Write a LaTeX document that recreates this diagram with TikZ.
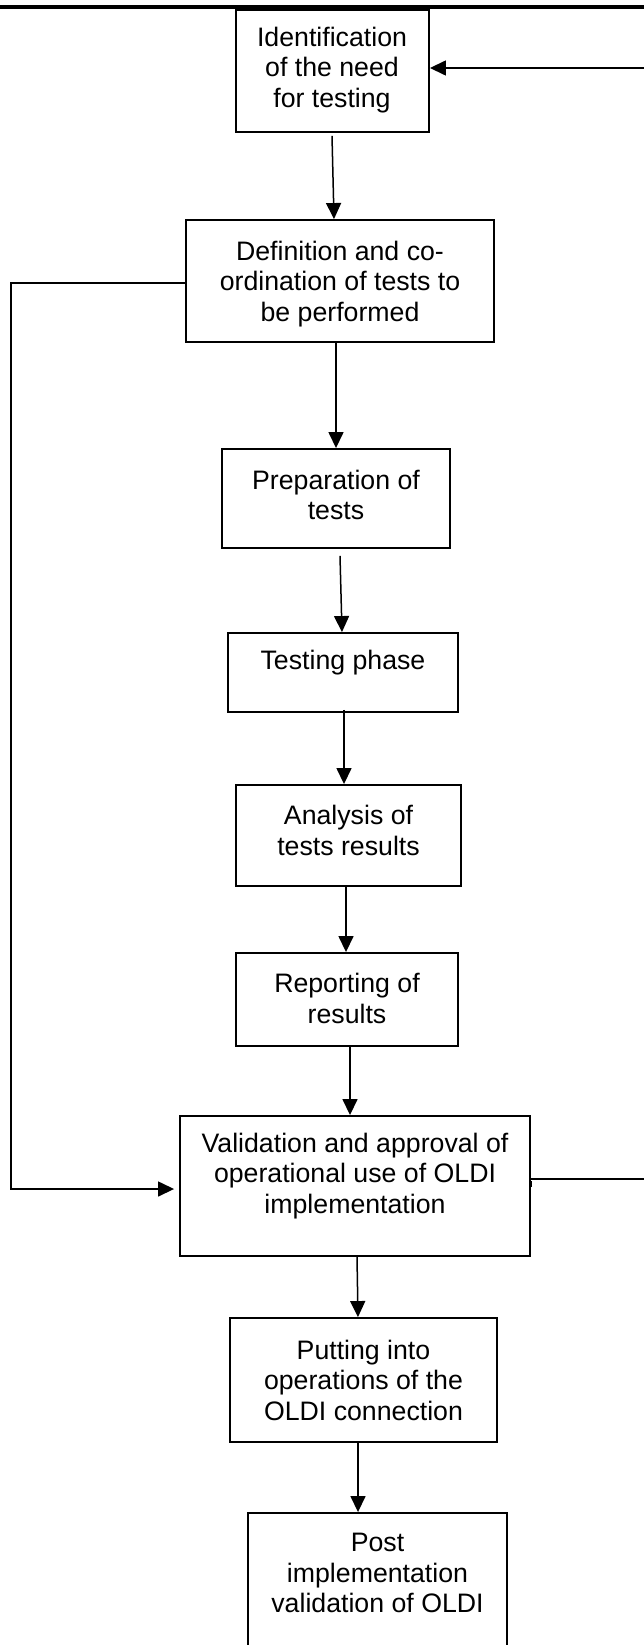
\documentclass[tikz,border=0pt]{standalone}
\usepackage{fontspec}
\setmainfont{Liberation Sans}
\usetikzlibrary{arrows.meta}
\begin{document}
\begin{tikzpicture}[x=1pt,y=-1pt,
  box/.style={draw, line width=1.9pt, inner sep=0pt},
  txt/.style={align=center, inner sep=0pt, font=\fontsize{26.7}{30.5}\selectfont},
  flow/.style={line width=1.5pt, -{Triangle[width=15pt,length=16pt]}},
  rule/.style={line width=3.4pt}]

\useasboundingbox (0,0) rectangle (644,1645);
\fill[white] (0,0) rectangle (644,1645);
\clip (0,0) rectangle (644,1645);

% page rule along the top
\draw[rule] (0,7) -- (644,7);

% process boxes
\node[box, minimum width=193pt, minimum height=122pt] (b1) at (332.5,71) {};
\node[box, minimum width=308pt, minimum height=122pt] (b2) at (340,281) {};
\node[box, minimum width=228pt, minimum height=99pt]  (b3) at (336,498.5) {};
\node[box, minimum width=230pt, minimum height=79pt]  (b4) at (343,672.5) {};
\node[box, minimum width=225pt, minimum height=101pt] (b5) at (348.5,835.5) {};
\node[box, minimum width=222pt, minimum height=93pt]  (b6) at (347,999.5) {};
\node[box, minimum width=350pt, minimum height=140pt] (b7) at (355,1186) {};
\node[box, minimum width=267pt, minimum height=124pt] (b8) at (363.5,1380) {};
\node[box, minimum width=259pt, minimum height=152pt] (b9) at (377.5,1589) {};

% box texts
\node[txt] (t1) at (332,70)   {Identification\\of the need\\for testing};
\node[txt] (t2) at (340,284)  {Definition and co-\\ordination of tests to\\be performed};
\node[txt] (t3) at (336,495)  {Preparation of\\tests};
\node[txt] (t4) at (343,663)  {Testing phase};
\node[txt] (t5) at (348.5,830.5) {Analysis of\\tests results};
\node[txt] (t6) at (347,998.5) {Reporting of\\results};
\node[txt] (t7) at (355,1176) {Validation and approval of\\operational use of OLDI\\implementation};
\node[txt] (t8) at (363.5,1380) {Putting into\\operations of the\\OLDI connection};
\node[txt] (t9) at (377.5,1573) {Post\\implementation\\validation of OLDI};

% main flow
\draw[flow] ([xshift=-0.5pt,yshift=-3pt]b1.south) -- ([xshift=-6pt]b2.north);
\draw[flow] ([xshift=-4pt]b2.south) -- (b3.north);
\draw[flow] ([xshift=4pt,yshift=-7pt]b3.south) -- ([xshift=-1pt]b4.north);
\draw[flow] ([xshift=1pt,yshift=3pt]b4.south) -- ([xshift=-4.5pt]b5.north);
\draw[flow] ([xshift=-2.5pt]b5.south) -- ([xshift=-1pt]b6.north);
\draw[flow] ([xshift=3pt]b6.south) -- ([xshift=-5pt]b7.north);
\draw[flow] ([xshift=2pt]b7.south) -- ([xshift=-5.5pt]b8.north);
\draw[flow] ([xshift=-5.5pt]b8.south) -- ([xshift=-19.5pt]b9.north);

% bypass on the left
\draw[flow, shorten >=5pt] ([yshift=-2pt]b2.west) -- ++(-174,0) |- ([yshift=-3pt]b7.west);

% feedback loop on the right, with its small joint mark at the box edge
\coordinate (R) at (652,600);
\draw[flow] ([yshift=7pt]b7.east) -| (R) |- ([yshift=3pt]b1.east);
\fill ([xshift=-2pt,yshift=5pt]b7.east) rectangle ++(3,6);

\end{tikzpicture}
\end{document}
